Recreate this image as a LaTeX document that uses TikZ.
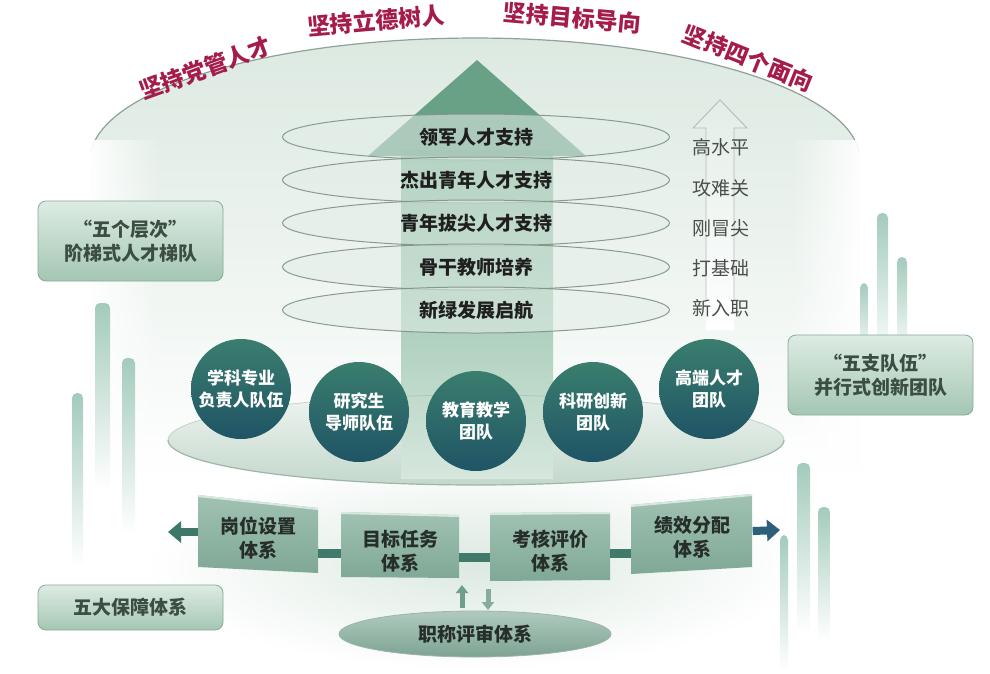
\documentclass[tikz,border=0pt]{standalone}
\usepackage{fontspec}
\setmainfont{Noto Sans CJK SC}
\usetikzlibrary{shapes.geometric,arrows.meta,fadings}
\definecolor{crim}{HTML}{A51C4A}
\definecolor{domeT}{HTML}{DCE9E1}
\definecolor{domeline}{HTML}{8FA296}
\definecolor{tierline}{HTML}{7E9386}
\definecolor{tierfill}{HTML}{E3EDE7}
\definecolor{lvlc}{HTML}{4A4F4B}
\definecolor{circT}{HTML}{3A7E6E}
\definecolor{circB}{HTML}{1F5465}
\definecolor{sideT}{HTML}{DDECE3}
\definecolor{sideB}{HTML}{A4C6B3}
\definecolor{sideline}{HTML}{86AA97}
\definecolor{sidetext}{HTML}{3C4D41}
\definecolor{panelT}{HTML}{A0C2B2}
\definecolor{panelB}{HTML}{80A896}
\definecolor{paneltext}{HTML}{262E29}
\definecolor{barc}{HTML}{3F7A6B}
\definecolor{arrL}{HTML}{3D7868}
\definecolor{arrR}{HTML}{2D5E7A}
\definecolor{upc}{HTML}{6F9E8F}
\definecolor{downc}{HTML}{86AC9F}
\definecolor{pillarc}{HTML}{A3CBBB}
\definecolor{headc}{HTML}{5E9B7E}
\definecolor{shaftT}{HTML}{7EB498}
\definecolor{shaftB}{HTML}{D6E7DD}
\definecolor{platT}{HTML}{EEF4F0}
\definecolor{platB}{HTML}{C3D8CC}
\definecolor{platline}{HTML}{9FB5A8}
\definecolor{zcT}{HTML}{AFCBBE}
\definecolor{zcB}{HTML}{7DA393}
\begin{document}
\begin{tikzpicture}[x=1pt,y=-1pt,
  title/.style={text=crim,font=\fontsize{23}{23}\selectfont\bfseries,inner sep=0pt},
  tier/.style={ellipse,minimum width=387pt,minimum height=46pt,draw=tierline,line width=1pt,
    fill=tierfill,fill opacity=0.55,text opacity=1,draw opacity=0.9,
    font=\fontsize{19}{19}\selectfont\bfseries,text=black!88,inner sep=0pt},
  lvl/.style={font=\fontsize{19}{19}\selectfont,text=lvlc,inner sep=0pt},
  team/.style={circle,minimum size=100pt,inner sep=0pt,top color=circT,bottom color=circB,
    text=white,align=center,font=\fontsize{17}{22}\selectfont\bfseries},
  sidebox/.style={rounded corners=8pt,draw=sideline,line width=0.8pt,top color=sideT,bottom color=sideB,
    text=sidetext,align=center,font=\fontsize{19}{24}\selectfont\bfseries,inner sep=0pt},
  panel/.style={inner sep=0pt,align=center,font=\fontsize{19}{24}\selectfont\bfseries,text=paneltext},
  panelshape/.style={top color=panelT,bottom color=panelB},
  bar/.style={line width=9pt,draw=barc},
  blockarrow/.style={line width=8pt,-{Triangle[width=21pt,length=13pt]}},
  smallarrow/.style={line width=5pt,-{Triangle[width=12pt,length=8pt]}},
  pillar/.style={top color=pillarc,bottom color=white,rounded corners=5pt},
]
\useasboundingbox (0,0) rectangle (990,673);
\fill[white] (0,0) rectangle (990,673);

% dome
\shade[top color=domeT,bottom color=white]
  plot[domain=180:0,samples=80] ({475+385*cos(\x)},{160-122*sin(\x)})
  -- (860,480) -- (90,480) -- cycle;
\draw[domeline,line width=1.2pt]
  plot[domain=176:4,samples=80] ({475+385*cos(\x)},{160-122*sin(\x)});
\fill[white,path fading=east] (86,140) rectangle (160,485);
\fill[white,path fading=west] (790,140) rectangle (864,485);

% bottom glow
\shade[inner color=domeT,outer color=white] (475,565) ellipse [x radius=330pt,y radius=105pt];

% titles
\node[title,rotate=20] (t1) at (205,68) {坚持党管人才};
\node[title,rotate=5] (t2) at (376,21) {坚持立德树人};
\node[title,rotate=-5] (t3) at (572,18) {坚持目标导向};
\node[title,rotate=-22] (t4) at (748,58) {坚持四个面向};

% pillars
\shade[pillar] (95,303) rectangle (110,490);
\shade[pillar] (72,393) rectangle (83,567);
\shade[pillar] (122,358) rectangle (135,533);
\shade[pillar] (877,213) rectangle (888,360);
\shade[pillar] (897,257) rectangle (907,360);
\shade[pillar] (860,283) rectangle (868,360);
\shade[pillar] (797,463) rectangle (810,633);
\shade[pillar] (818,507) rectangle (830,640);
\shade[pillar] (780,535) rectangle (788,670);

% platform
\shade[top color=platT,bottom color=platB] (476,440) ellipse [x radius=308pt,y radius=45pt];

% big arrow
\shade[top color=shaftT,bottom color=shaftB] (401,150) rectangle (553,478);
\fill[headc,opacity=0.92] (368,156) -- (477,60) -- (586,156) -- cycle;

% platform rim
\draw[platline,line width=1.2pt]
  plot[domain=0:180,samples=60] ({476+308*cos(\x)},{440+45*sin(\x)});
\draw[platline,line width=0.8pt,opacity=0.5]
  plot[domain=180:360,samples=60] ({476+308*cos(\x)},{440+45*sin(\x)});

% hollow arrow on the right
\shade[top color=domeT!80!white,bottom color=white]
  (706,330) -- (706,128) -- (693,128) -- (720,100) -- (747,128) -- (734,128) -- (734,330) -- cycle;
\draw[domeline!70!white,line width=0.9pt]
  (706,300) -- (706,128) -- (693,128) -- (720,100) -- (747,128) -- (734,128) -- (734,300);

% tiers
\node[tier] (l1) at (476,137) {领军人才支持};
\node[tier] (l2) at (476,180) {杰出青年人才支持};
\node[tier] (l3) at (476,223) {青年拔尖人才支持};
\node[tier] (l4) at (476,267) {骨干教师培养};
\node[tier] (l5) at (476,310) {新绿发展启航};

\node[lvl] (r1) at (721,147) {高水平};
\node[lvl] (r2) at (721,188) {攻难关};
\node[lvl] (r3) at (721,228) {刚冒尖};
\node[lvl] (r4) at (721,268) {打基础};
\node[lvl] (r5) at (721,308) {新入职};

% team circles
\node[team] (c1) at (241,389) {学科专业\\负责人队伍};
\node[team] (c2) at (359,412) {研究生\\导师队伍};
\node[team] (c3) at (476,421) {教育教学\\团队};
\node[team] (c4) at (593,412) {科研创新\\团队};
\node[team] (c5) at (709,389) {高端人才\\团队};

% side boxes
\node[sidebox,minimum width=185pt,minimum height=80pt] (s1) at (130.5,241) {“五个层次”\\阶梯式人才梯队};
\node[sidebox,minimum width=185pt,minimum height=45pt] (s2) at (130.5,607.5) {五大保障体系};
\node[sidebox,minimum width=185pt,minimum height=80pt] (s3) at (880.5,375) {“五支队伍”\\并行式创新团队};

% panels
\shade[panelshape] (198,495) -- (318,508) -- (318,573) -- (198,567) -- cycle;
\draw[white!60!panelT,line width=2pt] (198,496) -- (318,509);
\shade[panelshape] (341,512) -- (459,515) -- (459,578) -- (341,577) -- cycle;
\draw[white!60!panelT,line width=2pt] (341,513) -- (459,516);
\shade[panelshape] (490,513) -- (610,512) -- (610,580) -- (490,581) -- cycle;
\draw[white!60!panelT,line width=2pt] (490,514) -- (610,513);
\shade[panelshape] (631,505) -- (752,494) -- (752,567) -- (631,574) -- cycle;
\draw[white!60!panelT,line width=2pt] (631,506) -- (752,495);

\node[panel,minimum width=120pt,minimum height=66pt] (b1) at (258,538) {岗位设置\\体系};
\node[panel,minimum width=118pt,minimum height=64pt] (b2) at (400,551) {目标任务\\体系};
\node[panel,minimum width=120pt,minimum height=66pt] (b3) at (550,551) {考核评价\\体系};
\node[panel,minimum width=121pt,minimum height=70pt] (b4) at (692,537) {绩效分配\\体系};

\draw[bar] ([yshift=-15pt]b1.east) -- ([yshift=-2pt]b2.west);
\draw[bar] ([yshift=-6pt]b2.east) -- ([yshift=-6pt]b3.west);
\draw[bar] ([yshift=-2pt]b3.east) -- ([yshift=-16pt]b4.west);

\coordinate (la) at (168,532);
\coordinate (ra) at (780,530);
\draw[blockarrow,draw=arrL] ([yshift=6pt]b1.west) -- (la);
\draw[blockarrow,draw=arrR] ([yshift=6pt]b4.east) -- (ra);

% title evaluation ellipse
\node[ellipse,minimum width=272pt,minimum height=46pt,inner sep=0pt,top color=zcT,bottom color=zcB,
  draw=platline,line width=0.8pt,font=\fontsize{19}{19}\selectfont\bfseries,text=paneltext] (zc) at (475,634) {职称评审体系};

\coordinate (ua) at (462,608);
\coordinate (ub) at (462,585);
\coordinate (da) at (488,589);
\coordinate (db) at (488,610);
\draw[smallarrow,draw=upc] (ua) -- (ub);
\draw[smallarrow,draw=downc] (da) -- (db);
\end{tikzpicture}
\end{document}
